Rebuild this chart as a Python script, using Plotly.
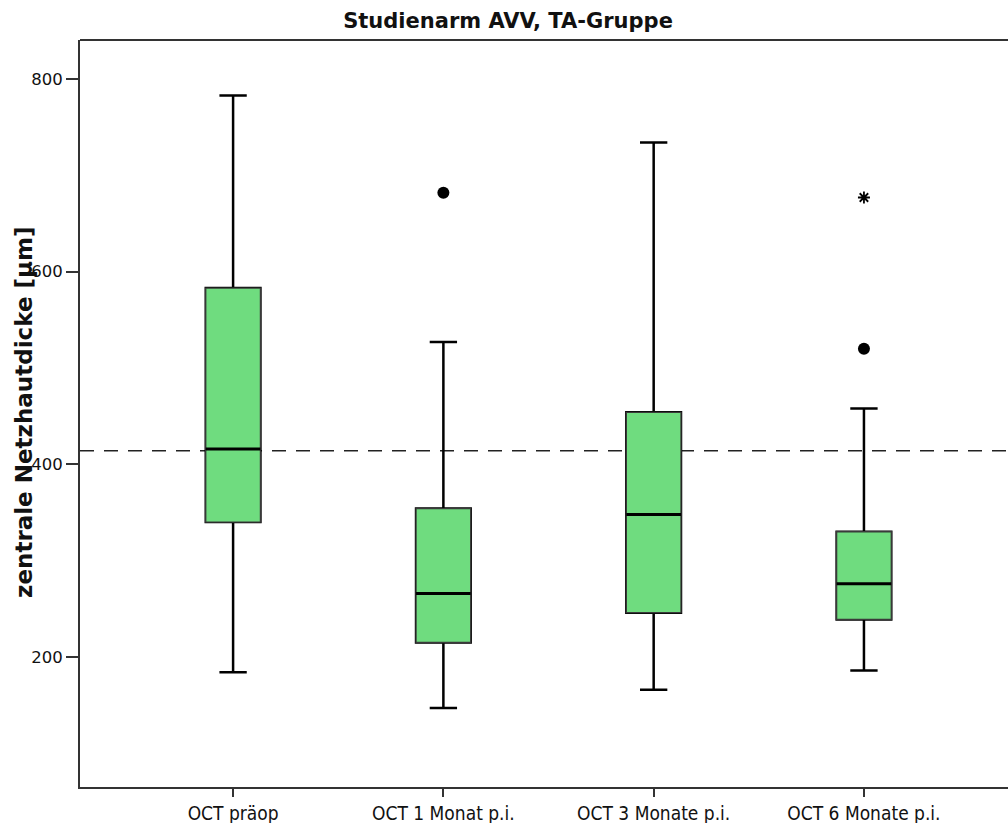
import plotly.graph_objects as go

categories = ["OCT präop", "OCT 1 Monat p.i.", "OCT 3 Monate p.i.", "OCT 6 Monate p.i."]
positions = [0, 1, 2, 3]
lower_whisker = [184, 147, 166, 186]
q1 = [340, 215, 246, 239]
median = [416, 266, 348, 276]
q3 = [583, 354, 454, 330]
upper_whisker = [783, 527, 734, 458]

outlier_x = [1, 3]
outlier_y = [682, 520]
extreme_x = [3]
extreme_y = [677]

reference_line = 414

GREEN = "rgb(111,220,127)"
BOX_W = 0.26

fig = go.Figure()
fig.add_trace(go.Box(
    x=positions, q1=q1, median=median, q3=q3,
    lowerfence=lower_whisker, upperfence=upper_whisker,
    width=BOX_W, whiskerwidth=0.5, fillcolor=GREEN,
    line=dict(color="black", width=2.5),
    boxpoints=False, showlegend=False, hoverinfo="skip",
))
fig.add_trace(go.Box(
    x=positions, q1=q1, median=median, q3=q3,
    lowerfence=q1, upperfence=q3,
    width=BOX_W, whiskerwidth=0, fillcolor=GREEN,
    line=dict(color="#3a3a3a", width=1.3),
    boxpoints=False, showlegend=False, hoverinfo="skip",
))
fig.add_trace(go.Box(
    x=positions, q1=median, median=median, q3=median,
    lowerfence=median, upperfence=median,
    width=BOX_W, whiskerwidth=0, fillcolor="rgba(0,0,0,0)",
    line=dict(color="black", width=3),
    boxpoints=False, showlegend=False, hoverinfo="skip",
))
fig.add_trace(go.Scatter(
    x=outlier_x, y=outlier_y, mode="markers",
    marker=dict(symbol="circle", size=12, color="black"),
    showlegend=False,
))
fig.add_trace(go.Scatter(
    x=extreme_x, y=extreme_y, mode="markers",
    marker=dict(symbol="asterisk-open", size=10, color="black",
                line=dict(color="black", width=1.8)),
    showlegend=False,
))

fig.add_shape(type="line", xref="paper", yref="y", x0=0, x1=1,
              y0=reference_line, y1=reference_line,
              line=dict(color="#222", width=1.5, dash="14px,10px"), layer="below")
fig.add_shape(type="line", xref="paper", yref="paper", x0=0, x1=1,
              y0=1, y1=1, line=dict(color="#333", width=2))

fig.add_annotation(
    text="<b>zentrale Netzhautdicke [µm]</b>", textangle=-90,
    xref="paper", yref="paper", x=0, y=0.5007, xshift=-56,
    xanchor="center", yanchor="middle", showarrow=False,
    font=dict(family="DejaVu Sans", size=23, color="#111"),
)

fig.update_layout(
    width=1008, height=823,
    margin=dict(l=80, r=0, t=40, b=36),
    paper_bgcolor="white", plot_bgcolor="white",
    boxmode="overlay",
    title=dict(text="<b>Studienarm AVV, TA-Gruppe</b>", x=0.504, xanchor="center",
               y=1 - 21 / 823, yanchor="middle",
               font=dict(family="DejaVu Sans", size=21, color="#111")),
    xaxis=dict(
        range=[-0.728, 3.685], automargin=False,
        tickvals=positions, ticktext=categories,
        ticks="outside", ticklen=8, tickwidth=2, tickcolor="#333",
        showline=True, linecolor="#333", linewidth=2, mirror=False,
        showgrid=False, zeroline=False,
        tickfont=dict(family="DejaVu Sans Condensed", size=19, color="#111"),
    ),
    yaxis=dict(
        range=[65, 840.5], automargin=False,
        tickvals=[200, 400, 600, 800],
        ticks="outside", ticklen=12, tickwidth=2, tickcolor="#333",
        showline=True, linecolor="#333", linewidth=2, mirror=False,
        showgrid=False, zeroline=False,
        tickfont=dict(family="DejaVu Sans", size=16.5, color="#111"),
    ),
)

fig.write_html(
    "out.html",
    config={"displayModeBar": False},
    post_script="document.body.style.margin='0';document.body.style.overflow='hidden';",
)
